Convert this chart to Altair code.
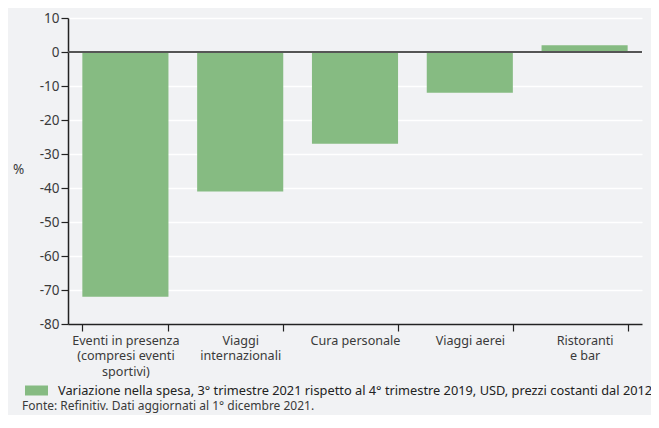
import altair as alt
import pandas as pd

categories = ["Eventi in presenza|(compresi eventi|sportivi)", "Viaggi|internazionali",
              "Cura personale", "Viaggi aerei", "Ristoranti|e bar"]
values = [-72, -41, -27, -12, 2]
series_name = "Variazione nella spesa, 3° trimestre 2021 rispetto al 4° trimestre 2019, USD, prezzi costanti dal 2012"
y_ticks = [-80, -70, -60, -50, -40, -30, -20, -10, 0, 10]
source = "Fonte: Refinitiv. Dati aggiornati al 1° dicembre 2021."

df = pd.DataFrame({"cat": categories, "val": values, "serie": [series_name] * len(values)})
note_df = pd.DataFrame({"t": [source]})

FONT = "Noto Sans"
TXT = "#3a3a3a"

y_scale = alt.Scale(domain=[-80, 10], nice=False)
y_axis = alt.Axis(values=y_ticks, tickCount=10, grid=True, gridColor="#ffffff", gridWidth=1.5,
                  labelOverlap=False, labelFlush=False, labelExpr="toString(datum.value)",
                  tickSize=7, tickColor="#222", domainColor="#222",
                  labelColor=TXT, labelFontSize=13.5, labelFont=FONT, labelPadding=2,
                  titleAngle=0, titleX=-50, titleY=158, titleFontSize=13.5,
                  titleFontWeight="normal", titleColor=TXT, titleFont=FONT)

base = alt.Chart(df)

bars = base.mark_bar(color="#86bb82").encode(
    x=alt.X("cat:N", sort=categories, title=None,
            scale=alt.Scale(paddingInner=0.25, paddingOuter=0.125),
            axis=alt.Axis(labelAngle=0, labelExpr="split(datum.label, '|')",
                          tickBand="extent", tickSize=7, tickColor="#222",
                          domainColor="#222", labelColor=TXT, labelFontSize=12.6,
                          labelFont=FONT, labelPadding=3, labelLineHeight=15.5,
                          labelBaseline="top")),
    y=alt.Y("val:Q", title="%", scale=y_scale, axis=y_axis),
    color=alt.Color("serie:N", scale=alt.Scale(range=["#86bb82"]),
                    legend=alt.Legend(title=None, orient="none", legendX=-43, legendY=361,
                                      symbolType="M-1,-0.435H1V0.435H-1Z", symbolSize=529,
                                      symbolStrokeWidth=0, symbolOpacity=1,
                                      labelFontSize=12.8, labelFont=FONT, labelColor="#222",
                                      labelLimit=800, labelOffset=10)),
)

zero = base.mark_rule(color="#555555", strokeWidth=2).encode(
    y=alt.Y(datum=0, title="%", scale=y_scale, axis=y_axis))

note = alt.Chart(note_df).mark_text(align="left", baseline="middle", fontSize=12, font=FONT,
                                    fontWeight="normal", color=TXT).encode(
    x=alt.value(-46), y=alt.value(388), text="t:N")

chart = alt.layer(bars, zero, note).properties(
    width=574, height=306,
    background="#f1f2f4",
    padding={"left": 60, "top": 10, "right": 9, "bottom": 91},
    autosize=alt.AutoSizeParams(type="none"),
).configure_view(stroke=None).configure_axis(domainWidth=1.5, tickWidth=1.2)

chart.save("out.html", embed_options={"renderer": "svg", "actions": False})
